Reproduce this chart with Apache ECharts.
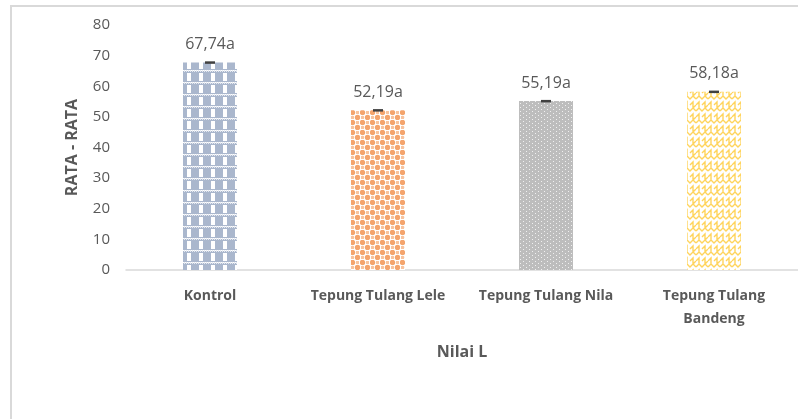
<!DOCTYPE html>
<html><head><meta charset="utf-8">
<script src="https://cdn.jsdelivr.net/npm/echarts@6/dist/echarts.min.js"></script>
<style>html,body{margin:0;padding:0;background:#fff;}#c{width:798px;height:419px;}</style>
</head><body><div id="c"></div>
<script>
var categories = ['Kontrol', 'Tepung Tulang Lele', 'Tepung Tulang Nila', 'Tepung Tulang\nBandeng'];
var values = [67.74, 52.19, 55.19, 58.18];
var labels = ['67,74a', '52,19a', '55,19a', '58,18a'];
var errors = [0.4, 0.35, 0.35, 0.4];
var yTicks = [0, 10, 20, 30, 40, 50, 60, 70, 80];

function mk(w, h, draw) {
  var c = document.createElement('canvas'); c.width = w; c.height = h;
  var g = c.getContext('2d'); g.fillStyle = '#fff'; g.fillRect(0, 0, w, h); draw(g); return c;
}
var patKontrol = mk(12, 12, function (g) {
  g.fillStyle = '#aab7cd'; g.fillRect(0, 0, 12, 12);
  g.fillStyle = '#ffffff'; g.fillRect(7, 1, 4, 8);
  g.fillStyle = '#e6eaf1';
  for (var x = 0; x < 12; x += 2) g.fillRect(x, 10, 1, 2);
  g.fillStyle = '#ffffff';
  for (var x2 = 1; x2 < 12; x2 += 2) g.fillRect(x2, 10, 1, 1);
});
var patLele = mk(10, 10, function (g) {
  g.fillStyle = '#f4a46c';
  g.beginPath(); g.arc(2.5, 2.5, 2.7, 0, Math.PI * 2); g.fill();
  g.beginPath(); g.arc(7.5, 7.5, 2.7, 0, Math.PI * 2); g.fill();
  g.fillStyle = '#f8c49f';
  g.fillRect(6, 1, 3, 3); g.fillRect(1, 6, 3, 3);
});
var patNila = mk(6, 4, function (g) {
  g.fillStyle = '#bdbdbd'; g.fillRect(0, 0, 6, 4);
  g.fillStyle = '#f0f0f0'; g.fillRect(1, 1, 1, 1); g.fillRect(4, 3, 1, 1);
});
var patBandeng = mk(12, 12, function (g) {
  g.strokeStyle = '#ffd45c'; g.lineWidth = 1.4;
  g.beginPath(); g.moveTo(0, 3); g.lineTo(3, 0); g.lineTo(6, 3); g.lineTo(9, 0); g.lineTo(12, 3); g.stroke();
  g.beginPath(); g.moveTo(0, 9); g.lineTo(3, 6); g.lineTo(3, 12); g.moveTo(6, 9); g.lineTo(9, 6); g.lineTo(9, 12); g.lineTo(12, 9); g.stroke();
});
var pats = [patKontrol, patLele, patNila, patBandeng];

var chart = echarts.init(document.getElementById('c'));
var txt = '#595959';
var font = '"Open Sans", "Liberation Sans", sans-serif';
chart.setOption({
  animation: false,
  backgroundColor: '#fff',
  textStyle: { fontFamily: font },
  graphic: [{ type: 'polyline', shape: { points: [[11, 430], [11, 6], [810, 6]] }, style: { stroke: '#d9d9d9', lineWidth: 2, fill: null }, silent: true }],
  grid: { left: 126, top: 25, width: 685, height: 245 },
  xAxis: {
    type: 'category', data: categories,
    axisLine: { lineStyle: { color: '#d9d9d9', width: 1.5 } },
    axisTick: { show: false },
    axisLabel: { color: txt, fontWeight: 'bold', fontSize: 14, margin: 15, lineHeight: 23, interval: 0, fontFamily: font },
    name: 'Nilai L', nameLocation: 'middle', nameGap: 74,
    nameTextStyle: { color: txt, fontWeight: 'bold', fontSize: 16, fontFamily: font }
  },
  yAxis: {
    type: 'value', min: 0, max: 80, interval: 10,
    axisLine: { show: false }, axisTick: { show: false }, splitLine: { show: false },
    axisLabel: { color: txt, fontSize: 15, margin: 16, fontFamily: font,
      formatter: function (v) { return yTicks.indexOf(v) >= 0 ? String(v) : ''; } },
    name: 'RATA - RATA', nameLocation: 'middle', nameGap: 46,
    nameTextStyle: { color: txt, fontWeight: 'bold', fontSize: 16, fontFamily: font }
  },
  series: [{
    type: 'bar', barWidth: 54,
    data: values.map(function (v, i) { return { value: v, itemStyle: { color: { image: pats[i], repeat: 'repeat' } } }; }),
    label: { show: true, position: 'top', distance: 10, color: txt, fontSize: 16, fontFamily: font,
      formatter: function (p) { return labels[p.dataIndex]; } }
  }, {
    type: 'custom', z: 5,
    data: values.map(function (v, i) { return [i, v, errors[i]]; }),
    renderItem: function (params, api) {
      var x = api.coord([api.value(0), api.value(1)])[0];
      var yt = api.coord([api.value(0), api.value(1) + api.value(2)])[1];
      var yb = api.coord([api.value(0), api.value(1) - api.value(2)])[1];
      return { type: 'rect', shape: { x: x - 5, y: yt, width: 10, height: Math.max(2.5, yb - yt) }, style: { fill: '#404040' } };
    }
  }]
});
</script></body></html>
